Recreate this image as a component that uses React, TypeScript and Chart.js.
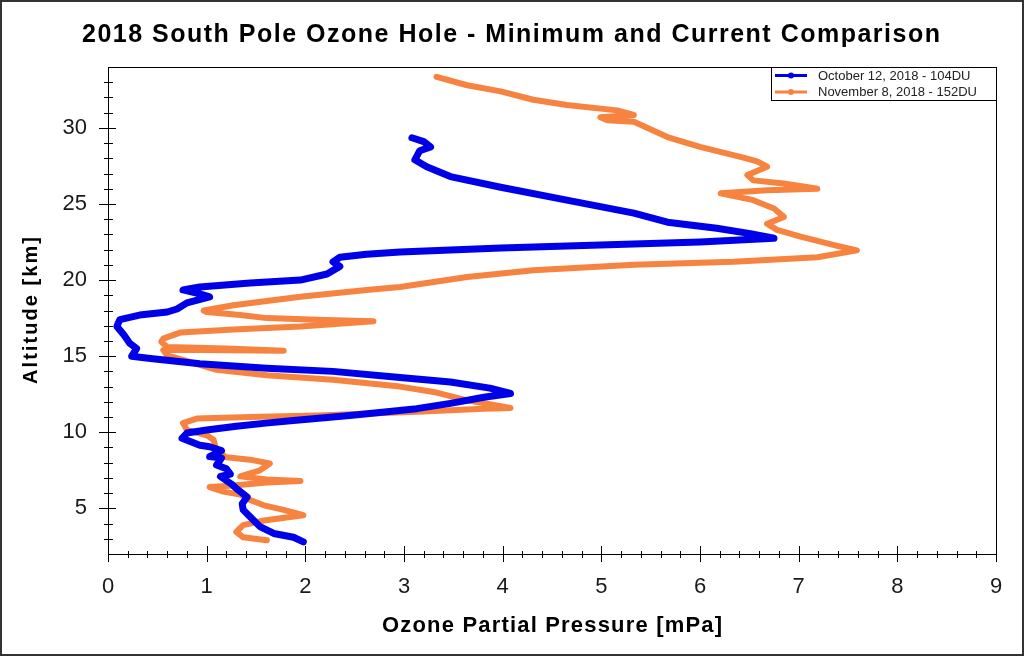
import React, { useEffect, useRef } from 'react';
import { Chart, registerables } from 'chart.js';

Chart.register(...registerables);

// October 12, 2018 sounding (from the ground upward)
const octPressure = [
  1.98, 1.88, 1.68, 1.54, 1.44, 1.37, 1.36, 1.41, 1.32, 1.25, 1.14, 1.24, 1.2, 1.1, 1.15, 1.03, 1.15, 1.03,
  0.93, 0.75, 0.8, 1.0, 1.3, 1.6, 1.85, 2.45, 3.13, 3.47, 3.81, 4.08, 3.87, 3.47, 2.96, 2.28, 1.61, 0.93,
  0.43, 0.24, 0.29, 0.22, 0.16, 0.09, 0.12, 0.32, 0.6, 0.7, 0.8, 1.03, 0.93, 0.76, 0.93, 1.44, 1.95, 2.22,
  2.35, 2.28, 2.35, 2.62, 2.96, 3.98, 4.99, 6.0, 6.75, 6.51, 6.17, 5.67, 5.33, 4.65, 3.98, 3.47, 3.23, 3.11,
  3.16, 3.27, 3.2, 3.08,
];
const octAltitude = [
  2.8, 3.1, 3.35, 3.8, 4.45, 4.9, 5.3, 5.75, 6.2, 6.6, 7.1, 7.25, 7.6, 7.85, 8.3, 8.4, 8.8, 9.05,
  9.15, 9.6, 9.95, 10.15, 10.4, 10.6, 10.75, 11.1, 11.55, 11.9, 12.3, 12.55, 12.9, 13.3, 13.6, 14.0, 14.2, 14.5,
  14.85, 15.0, 15.5, 15.85, 16.4, 16.95, 17.4, 17.7, 17.9, 18.1, 18.5, 18.9, 19.1, 19.35, 19.55, 19.8, 20.0, 20.4,
  20.9, 21.2, 21.5, 21.7, 21.85, 22.1, 22.3, 22.5, 22.75, 23.05, 23.4, 23.8, 24.4, 25.25, 26.1, 26.8, 27.45, 27.9,
  28.5, 28.75, 29.1, 29.35,
];

// November 8, 2018 sounding (from the ground upward)
const novPressure = [
  1.61, 1.37, 1.3, 1.37, 1.58, 1.98, 1.78, 1.58, 1.44, 1.34, 1.17, 1.03, 1.27, 1.61, 1.95, 1.61, 1.34, 1.54,
  1.64, 1.44, 1.2, 1.1, 1.07, 1.0, 0.8, 0.76, 0.9, 1.44, 2.12, 3.13, 3.81, 4.08, 3.64, 3.3, 2.96, 2.28,
  1.61, 1.1, 0.76, 0.6, 0.56, 0.93, 1.78, 1.2, 0.6, 0.54, 0.56, 0.73, 1.27, 1.95, 2.69, 2.12, 1.61, 1.34,
  1.0, 0.97, 1.27, 1.95, 2.62, 2.96, 3.64, 4.31, 5.33, 6.34, 7.19, 7.59, 7.36, 7.02, 6.78, 6.68, 6.85, 6.75,
  6.54, 6.21, 6.68, 7.19, 6.85, 6.54, 6.48, 6.68, 6.58, 6.41, 6.0, 5.67, 5.33, 5.06, 4.99, 5.33, 5.16, 4.65,
  4.31, 3.98, 3.64, 3.33,
];
const novAltitude = [
  2.9, 3.1, 3.45, 3.9, 4.2, 4.55, 4.9, 5.2, 5.55, 5.9, 6.1, 6.4, 6.5, 6.7, 6.8, 6.9, 7.1, 7.5,
  7.95, 8.2, 8.35, 8.8, 9.5, 9.8, 10.15, 10.6, 10.9, 11.0, 11.1, 11.35, 11.55, 11.6, 12.1, 12.65, 13.0, 13.45,
  13.75, 14.1, 14.75, 15.05, 15.4, 15.4, 15.35, 15.5, 15.6, 15.95, 16.15, 16.55, 16.75, 16.95, 17.3, 17.4, 17.5, 17.7,
  17.9, 18.0, 18.35, 18.9, 19.35, 19.55, 20.2, 20.65, 21.0, 21.2, 21.5, 21.95, 22.3, 22.85, 23.3, 23.7, 24.15, 24.7,
  25.25, 25.7, 25.9, 26.0, 26.35, 26.55, 26.9, 27.45, 27.8, 28.1, 28.75, 29.4, 30.4, 30.5, 30.7, 30.85, 31.15, 31.5,
  31.85, 32.4, 32.8, 33.35,
];

const seriesLabels = ['October 12, 2018 - 104DU', 'November 8, 2018 - 152DU'];
const seriesColors = ['rgb(0, 0, 232)', 'rgb(247, 131, 64)'];

const chartTitle = '2018 South Pole Ozone Hole - Minimum and Current Comparison';
const xTitle = 'Ozone Partial Pressure [mPa]';
const yTitle = 'Altitude [km]';

const xRange = [0, 9];
const yRange = [2, 34];
const xMajorStep = 1;
const xMinorStep = 0.2;
const yMajorStep = 5;
const yMinorStep = 1;

const toPoints = (xs: number[], ys: number[]) => xs.map((x, i) => ({ x, y: ys[i] }));

// draws text stretched with letter spacing to a given width
function spacedText(ctx: any, text: string, x: number, y: number, font: string, width: number) {
  ctx.font = font;
  ctx.letterSpacing = '0px';
  const w = ctx.measureText(text).width;
  const s = Math.max(0, (width - w) / (text.length - 1));
  ctx.letterSpacing = `${s}px`;
  ctx.textAlign = 'center';
  ctx.fillText(text, x + s / 2, y);
  ctx.letterSpacing = '0px';
}

const framePlugin = {
  id: 'frame',
  afterDraw(chart: any) {
    const { ctx, chartArea: a, scales } = chart;
    const xs = scales.x;
    const ys = scales.y;
    ctx.save();

    // outer picture border
    ctx.strokeStyle = '#333';
    ctx.lineWidth = 2;
    ctx.strokeRect(1, 1, chart.width - 2, chart.height - 2);

    // plot box
    ctx.strokeStyle = '#000';
    ctx.lineWidth = 1;
    ctx.strokeRect(a.left + 0.5, a.top + 0.5, a.right - a.left, a.bottom - a.top);

    // tick marks crossing the axes
    ctx.beginPath();
    const nx = Math.round((xRange[1] - xRange[0]) / xMinorStep);
    for (let i = 0; i <= nx; i++) {
      const v = xRange[0] + i * xMinorStep;
      const major = Math.abs(v / xMajorStep - Math.round(v / xMajorStep)) < 1e-6;
      const px = Math.round(xs.getPixelForValue(v)) + 0.5;
      ctx.moveTo(px, a.bottom - (major ? 8 : 3));
      ctx.lineTo(px, a.bottom + (major ? 8 : 4));
    }
    for (let v = yRange[0] + yMinorStep; v < yRange[1]; v += yMinorStep) {
      const major = v % yMajorStep === 0;
      const py = Math.round(ys.getPixelForValue(v)) + 0.5;
      ctx.moveTo(a.left - (major ? 9 : 4), py);
      ctx.lineTo(a.left + (major ? 8 : 5), py);
    }
    ctx.stroke();

    // titles
    ctx.fillStyle = '#000';
    ctx.textBaseline = 'alphabetic';
    spacedText(ctx, chartTitle, 511, 42, 'bold 25px "Liberation Sans", Arial, sans-serif', 858);
    spacedText(ctx, xTitle, (a.left + a.right) / 2, 632, 'bold 22px "Liberation Sans", Arial, sans-serif', 340);
    ctx.save();
    ctx.translate(37, (a.top + a.bottom) / 2);
    ctx.rotate(-Math.PI / 2);
    spacedText(ctx, yTitle, 0, 0, 'bold 20px "Liberation Sans", Arial, sans-serif', 147);
    ctx.restore();

    // legend box in the upper right corner
    const lx = 771;
    const ly = a.top;
    ctx.fillStyle = '#fff';
    ctx.fillRect(lx, ly, a.right - lx, 33);
    ctx.strokeStyle = '#000';
    ctx.strokeRect(lx + 0.5, ly + 0.5, a.right - lx, 33);
    ctx.font = '13px "Liberation Sans", Arial, sans-serif';
    ctx.textAlign = 'left';
    ctx.textBaseline = 'middle';
    seriesLabels.forEach((label, i) => {
      const cy = ly + 8.5 + i * 16.5;
      ctx.strokeStyle = seriesColors[i];
      ctx.lineWidth = 3;
      ctx.beginPath();
      ctx.moveTo(lx + 4, cy);
      ctx.lineTo(lx + 36, cy);
      ctx.stroke();
      ctx.fillStyle = seriesColors[i];
      ctx.beginPath();
      ctx.arc(lx + 20, cy, 3, 0, Math.PI * 2);
      ctx.fill();
      ctx.fillStyle = '#222';
      ctx.fillText(label, lx + 47, cy + 0.5);
    });
    ctx.restore();
  },
};

const OzoneProfileChart: React.FC = () => {
  const chartRef = useRef<HTMLCanvasElement>(null);
  const chartInstance = useRef<Chart | null>(null);

  useEffect(() => {
    if (!chartRef.current) return;
    if (chartInstance.current) chartInstance.current.destroy();
    const ctx = chartRef.current.getContext('2d');
    if (!ctx) return;

    const tickFont = { family: '"Liberation Sans", Arial, sans-serif', size: 22 };

    chartInstance.current = new Chart(ctx, {
      type: 'scatter',
      data: {
        datasets: [
          {
            label: seriesLabels[0],
            data: toPoints(octPressure, octAltitude),
            showLine: true,
            borderColor: seriesColors[0],
            backgroundColor: seriesColors[0],
            borderWidth: 7,
            borderJoinStyle: 'round',
            borderCapStyle: 'round',
            pointRadius: 0,
          },
          {
            label: seriesLabels[1],
            data: toPoints(novPressure, novAltitude),
            showLine: true,
            borderColor: seriesColors[1],
            backgroundColor: seriesColors[1],
            borderWidth: 6,
            borderJoinStyle: 'round',
            borderCapStyle: 'round',
            pointRadius: 0,
          },
        ],
      },
      options: {
        responsive: false,
        animation: false,
        layout: { padding: { top: 67, right: 28, left: 0, bottom: 0 } },
        plugins: {
          legend: { display: false },
          title: { display: false },
          tooltip: { enabled: false },
        },
        scales: {
          x: {
            type: 'linear',
            min: xRange[0],
            max: xRange[1],
            grid: { display: false, drawTicks: false, tickLength: 0 },
            border: { display: false },
            ticks: { stepSize: xMajorStep, padding: 20, font: tickFont, color: '#1a1a1a', maxRotation: 0 },
            afterFit: (s: any) => {
              s.height = 102;
            },
          },
          y: {
            type: 'linear',
            min: yRange[0],
            max: yRange[1],
            grid: { display: false, drawTicks: false, tickLength: 0 },
            border: { display: false },
            ticks: { stepSize: yMajorStep, includeBounds: false, padding: 21, font: tickFont, color: '#1a1a1a' },
            afterFit: (s: any) => {
              s.width = 108;
            },
          },
        },
      },
      plugins: [framePlugin],
    } as any);

    return () => {
      if (chartInstance.current) {
        chartInstance.current.destroy();
        chartInstance.current = null;
      }
    };
  }, []);

  return (
    <div style={{ position: 'absolute', left: 0, top: 0, width: 1024, height: 656, background: '#fff' }}>
      <canvas ref={chartRef} width={1024} height={656}></canvas>
    </div>
  );
};

export default function App() {
  return <OzoneProfileChart />;
}
